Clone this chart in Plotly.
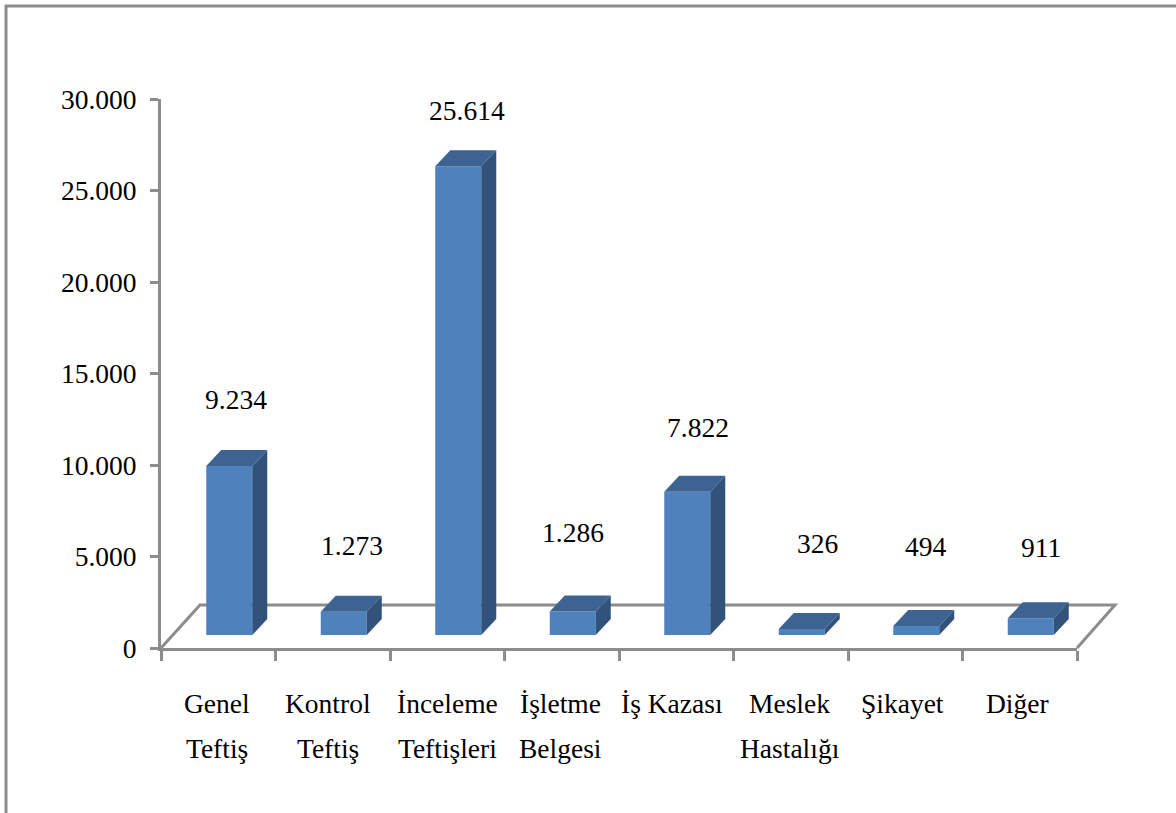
import plotly.graph_objects as go

categories = [["Genel", "Teftiş"], ["Kontrol", "Teftiş"], ["İnceleme", "Teftişleri"],
              ["İşletme", "Belgesi"], ["İş Kazası"], ["Meslek", "Hastalığı"], ["Şikayet"], ["Diğer"]]
values = [9234, 1273, 25614, 1286, 7822, 326, 494, 911]
value_labels = ["9.234", "1.273", "25.614", "1.286", "7.822", "326", "494", "911"]
y_ticks = [0, 5000, 10000, 15000, 20000, 25000, 30000]
y_tick_labels = ["0", "5.000", "10.000", "15.000", "20.000", "25.000", "30.000"]

# Hand-placed label nudges in the source (pixels)
label_dx = [7, 8, 9, 0, 11, 16, 10, 10]
label_dy = [51, 50, 40, 63, 48, 70, 63, 55]
cat_dx = [-1, -5, 0, -1, -4, -1, -3, -2]

W, H = 1176, 813
L, R, T, B = 161, 1077, 99, 648
FONT = "Liberation Serif"
FS = 27.5
GREY = "#8C8C8C"
FRONT, TOP, SIDE = "#4F81BD", "#3C6391", "#31527B"

px_x = 8 / (R - L)          # data units per pixel
px_y = 30000 / (B - T)
bar_w = 46 * px_x
bar_dx = 11 * px_x          # bars sit forward of the floor centre
base = 13 * px_y            # lift of bar base above the axis origin
dx, dy = 15 * px_x, 16 * px_y  # depth of the 3D extrusion

def X(p): return (p - L) / (R - L)
def Y(p): return (B - p) / (B - T)

centers = [i + 0.5 + bar_dx for i in range(len(values))]
fig = go.Figure()
fig.add_trace(go.Bar(x=centers, y=values, base=base, width=bar_w,
                     marker=dict(color=FRONT, line=dict(width=0)),
                     hoverinfo="skip", showlegend=False))
for c, v in zip(centers, values):
    l, r, t = c - bar_w / 2, c + bar_w / 2, base + v
    fig.add_trace(go.Scatter(x=[l, l + dx, r + dx, r, l], y=[t, t + dy, t + dy, t, t],
                             mode="lines", fill="toself", fillcolor=TOP, line=dict(width=0),
                             hoverinfo="skip", showlegend=False, cliponaxis=False))
    fig.add_trace(go.Scatter(x=[r, r + dx, r + dx, r, r], y=[t, t + dy, base + dy, base, t],
                             mode="lines", fill="toself", fillcolor=SIDE, line=dict(width=0),
                             hoverinfo="skip", showlegend=False, cliponaxis=False))

ann = []
for c, v, s, ldx, ldy in zip(centers, values, value_labels, label_dx, label_dy):
    ann.append(dict(x=c, y=base + v + dy, xref="x", yref="y", text=s, showarrow=False,
                    xshift=ldx, yshift=ldy, font=dict(family=FONT, size=FS, color="#000000")))
for i, lines in enumerate(categories):
    for j, line in enumerate(lines):
        ann.append(dict(x=i + 0.5, y=Y(703 + 45 * j), xref="x", yref="paper", text=line,
                        showarrow=False, xshift=cat_dx[i], yanchor="middle",
                        font=dict(family=FONT, size=FS, color="#000000")))

shapes = [
    dict(type="path", xref="paper", yref="paper", layer="below",
         path=f"M {X(161)} {Y(648)} L {X(200)} {Y(605)} L {X(1115)} {Y(605)} L {X(1077)} {Y(648)}",
         line=dict(color=GREY, width=3)),
    dict(type="path", xref="paper", yref="paper", layer="below",
         path=f"M {X(6)} {Y(813)} L {X(6)} {Y(6)} L {X(1176)} {Y(6)}",
         line=dict(color=GREY, width=3)),
]

fig.update_layout(
    width=W, height=H, autosize=False, margin=dict(l=L, r=W - R, t=T, b=H - B, pad=0),
    paper_bgcolor="white", plot_bgcolor="rgba(0,0,0,0)", showlegend=False,
    annotations=ann, shapes=shapes,
    xaxis=dict(range=[0, 8], showgrid=False, zeroline=False, showline=True, linecolor=GREY, linewidth=3,
               tickmode="array", tickvals=list(range(9)), ticktext=[""] * 9, ticks="outside",
               ticklen=10, tickwidth=2.5, tickcolor=GREY),
    yaxis=dict(range=[0, 30000], showgrid=False, zeroline=False, showline=True, linecolor=GREY, linewidth=3,
               tickmode="array", tickvals=y_ticks, ticktext=y_tick_labels, ticks="outside",
               ticklen=8, tickwidth=2.5, tickcolor=GREY, ticklabelstandoff=8,
               tickfont=dict(family=FONT, size=FS, color="#000000")),
)
fig.write_html("out.html", config=dict(displayModeBar=False),
               post_script="document.body.style.margin='0';document.documentElement.style.overflow='hidden';")
